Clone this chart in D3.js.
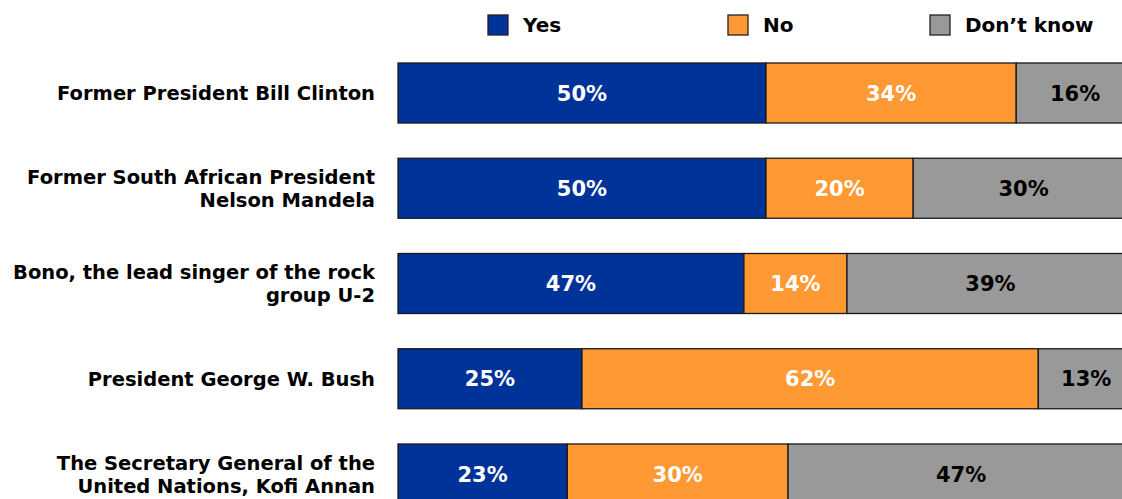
<!DOCTYPE html>
<html><head><meta charset="utf-8">
<script src="https://cdn.jsdelivr.net/npm/d3@7"></script>
<style>body{margin:0;background:#fff;overflow:hidden}svg{display:block}</style>
</head><body><svg id="c" width="1122" height="499"></svg>
<script>
const categories = [
  ["Former President Bill Clinton"],
  ["Former South African President", "Nelson Mandela"],
  ["Bono, the lead singer of the rock", "group U-2"],
  ["President George W. Bush"],
  ["The Secretary General of the", "United Nations, Kofi Annan"]
];
const seriesNames = ["Yes", "No", "Don\u2019t know"];
const yesValues = [50, 50, 47, 25, 23];
const noValues = [34, 20, 14, 62, 30];
const dontKnowValues = [16, 30, 39, 13, 47];
const colors = ["#003399", "#FF9933", "#999999"];
const labelColors = ["#ffffff", "#ffffff", "#000000"];

const svg = d3.select("#c");
const font = "'DejaVu Sans', Verdana, sans-serif";
const keys = categories.map((c, i) => i);
const x = d3.scaleLinear().domain([0, 100]).range([398, 1134]);
const y = d3.scaleBand().domain(keys).range([63, 504]).paddingInner(0.37).paddingOuter(0);

const rows = keys.map(i => ({i, v: [yesValues[i], noValues[i], dontKnowValues[i]]}));
const stack = d3.stack().keys([0,1,2]).value((d, k) => d.v[k]);
const stacked = stack(rows);

const g = svg.append("g");
stacked.forEach((s, si) => {
  const sg = g.append("g");
  sg.selectAll("rect").data(s).join("rect")
    .attr("x", d => x(d[0]))
    .attr("y", d => y(d.data.i))
    .attr("width", d => x(d[1]) - x(d[0]))
    .attr("height", y.bandwidth())
    .attr("fill", colors[si])
    .attr("stroke", "#1a1a1a")
    .attr("stroke-width", 1.3);
  sg.selectAll("text").data(s).join("text")
    .attr("x", d => (x(d[0]) + x(d[1])) / 2)
    .attr("y", d => y(d.data.i) + y.bandwidth() / 2)
    .attr("dy", "0.36em")
    .attr("text-anchor", "middle")
    .attr("font-family", font).attr("font-weight", "bold").attr("font-size", 21)
    .attr("fill", labelColors[si])
    .text(d => (d[1] - d[0]) + "%");
});

// category labels
const lab = svg.append("g");
categories.forEach((lines, i) => {
  const cy = y(i) + y.bandwidth() / 2;
  const lh = 23;
  const t = lab.append("text")
    .attr("text-anchor", "end")
    .attr("font-family", font).attr("font-weight", "bold").attr("font-size", 19.5)
    .attr("fill", "#000");
  lines.forEach((ln, j) => {
    t.append("tspan").attr("x", 375)
      .attr("y", cy + (j - (lines.length - 1) / 2) * lh)
      .attr("dy", "0.36em").text(ln);
  });
});

// legend
const legX = [488, 728, 930];
const leg = svg.append("g");
seriesNames.forEach((n, i) => {
  leg.append("rect").attr("x", legX[i]).attr("y", 15).attr("width", 20).attr("height", 20)
    .attr("fill", colors[i]).attr("stroke", "#222").attr("stroke-width", 1.3);
  leg.append("text").attr("x", legX[i] + 35).attr("y", 25).attr("dy", "0.36em")
    .attr("font-family", font).attr("font-weight", "bold").attr("font-size", 20)
    .text(n);
});
</script></body></html>
